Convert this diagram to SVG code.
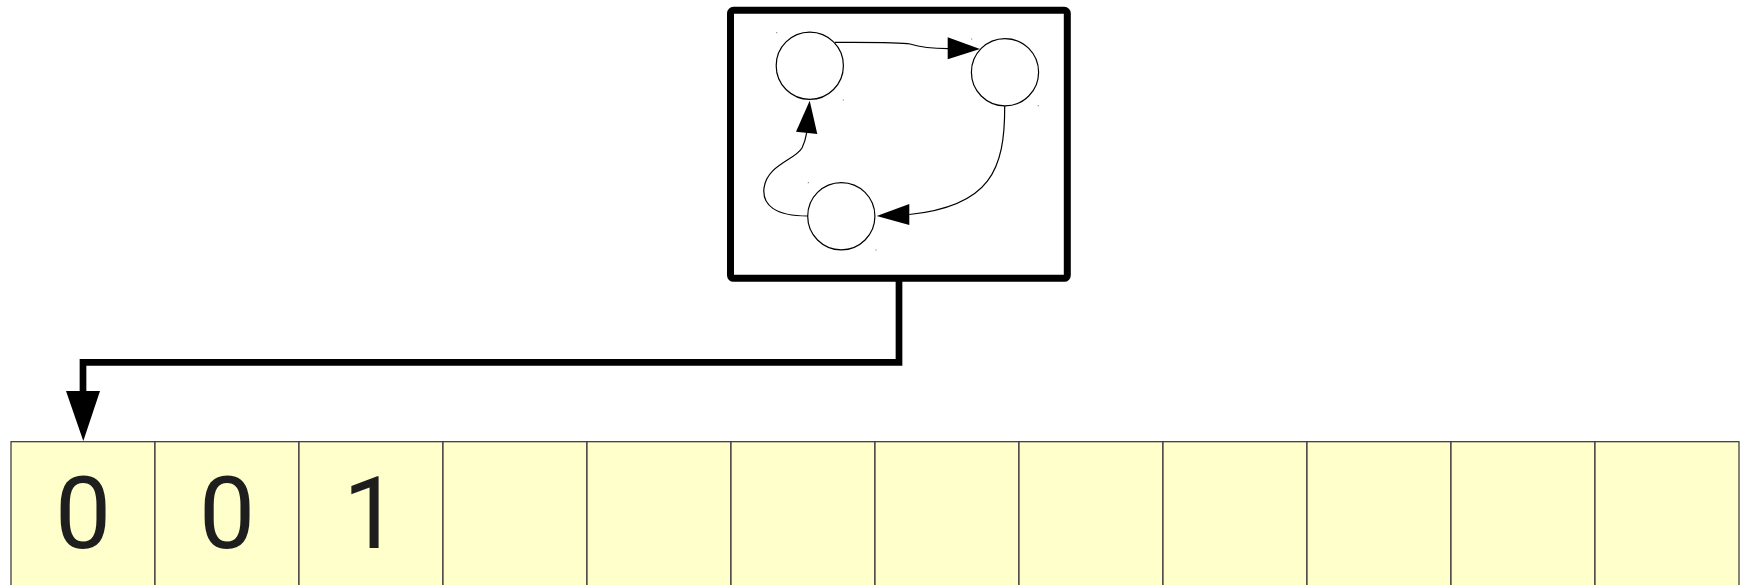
<svg xmlns="http://www.w3.org/2000/svg" width="1745" height="585" viewBox="0 0 1745 585">
<style>
.cell{fill:#FFFFCC;stroke:#333;stroke-width:1.2}
.digit{font-family:Roboto,sans-serif;font-size:100px;fill:#1e1e1e;text-anchor:middle}
.state{fill:#fff;stroke:#000;stroke-width:1.2}
.edge{fill:none;stroke:#000;stroke-width:1.2}
.dot{fill:#666}
.head{fill:#000}
</style>
<rect width="1745" height="585" fill="#fff"/>
<g id="machine">
<rect x="730.5" y="10.3" width="336.8" height="268" rx="3" fill="#fff" stroke="#000" stroke-width="7"/>
<g id="s1"><circle class="state" cx="809.8" cy="65.7" r="33.6"/><rect class="dot" x="776.2" y="32.2" width="1" height="1"/><rect class="dot" x="842.8" y="99.5" width="1" height="1"/></g>
<g id="s2"><circle class="state" cx="1005" cy="72.2" r="33.6"/><rect class="dot" x="971.2" y="38.5" width="1" height="1"/><rect class="dot" x="1037.8" y="105.2" width="1" height="1"/></g>
<g id="s3"><circle class="state" cx="841.3" cy="216.2" r="33.6"/><rect class="dot" x="807.8" y="182.2" width="1" height="1"/><rect class="dot" x="875.5" y="249.5" width="1" height="1"/></g>
<g id="edges">
<path class="edge" d="M835,42.3 C880,42.3 900,42 910,44 C920,47 930,48.5 948,48.7"/>
<polygon class="head" points="980,49 947.7,37.3 947.7,59.3"/>
<path class="edge" d="M1004.7,106 C1005,170 990,206 909.3,214.5"/>
<polygon class="head" points="876.7,216 909.3,204 909.3,225"/>
<path class="edge" d="M807.7,216 C775,216 762,205 764,188 C767,165 795,160 802,148 C805,142 806,137 806.7,132.7"/>
<polygon class="head" points="809.7,100.7 796,131.7 817.3,134"/>
</g>
</g>
<g id="tape">
<rect class="cell" x="11" y="441.7" width="144" height="160"/>
<rect class="cell" x="155" y="441.7" width="144" height="160"/>
<rect class="cell" x="299" y="441.7" width="144" height="160"/>
<rect class="cell" x="443" y="441.7" width="144" height="160"/>
<rect class="cell" x="587" y="441.7" width="144" height="160"/>
<rect class="cell" x="731" y="441.7" width="144" height="160"/>
<rect class="cell" x="875" y="441.7" width="144" height="160"/>
<rect class="cell" x="1019" y="441.7" width="144" height="160"/>
<rect class="cell" x="1163" y="441.7" width="144" height="160"/>
<rect class="cell" x="1307" y="441.7" width="144" height="160"/>
<rect class="cell" x="1451" y="441.7" width="144" height="160"/>
<rect class="cell" x="1595" y="441.7" width="144" height="160"/>
<text class="digit" x="83" y="548">0</text>
<text class="digit" x="227" y="548">0</text>
<text class="digit" x="371" y="548">1</text>
</g>
<g id="connectors">
<polyline points="899,278 899,362.3 83,362.3 83,392" fill="none" stroke="#000" stroke-width="6.7"/>
<polygon points="83.3,441 66,391 100,391" fill="#000"/>
</g>
</svg>
